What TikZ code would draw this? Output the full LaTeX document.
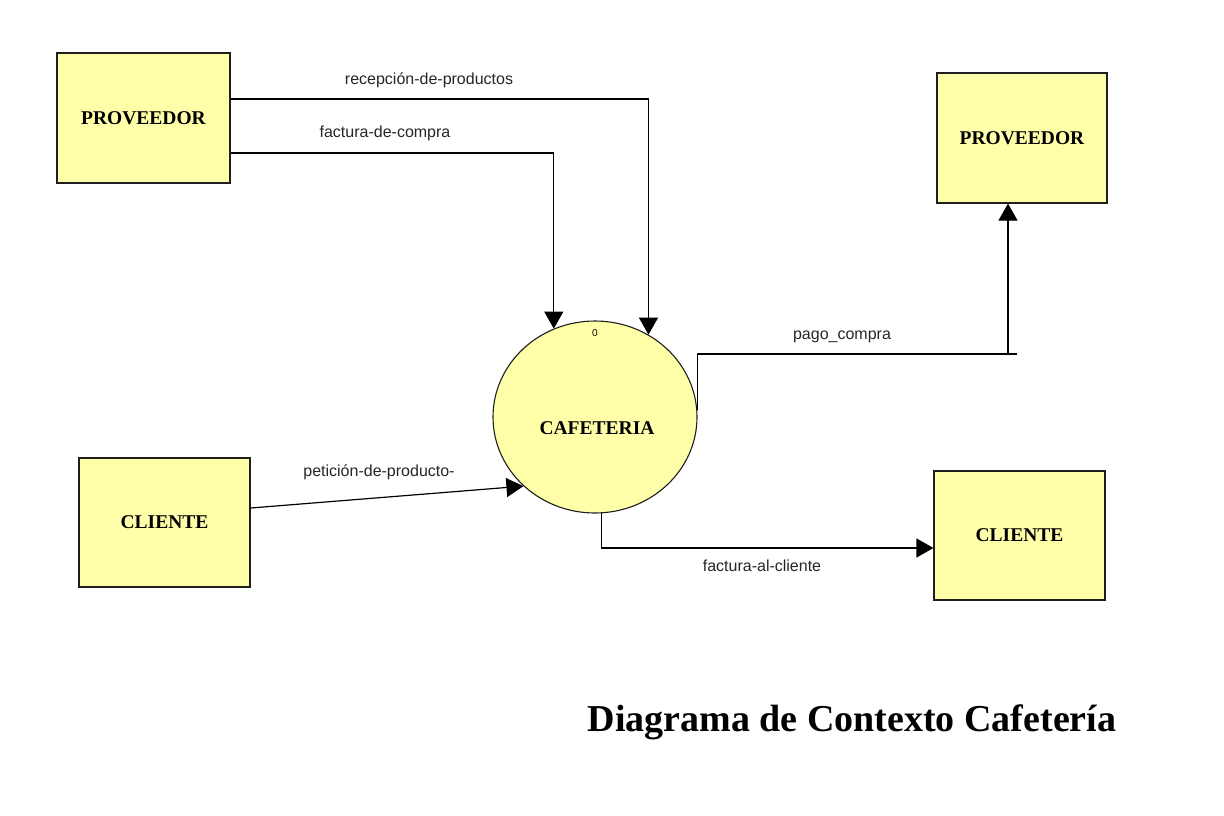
\documentclass[tikz,border=0pt]{standalone}
\usepackage{fontspec}
\setmainfont{Liberation Serif}
\setsansfont{Liberation Sans}
\usetikzlibrary{arrows.meta,shapes.geometric}
\definecolor{boxfill}{RGB}{255,255,170}
\definecolor{boxline}{RGB}{30,30,30}
\tikzset{
  entity/.style={draw=boxline, line width=1.2pt, fill=boxfill, rectangle, inner sep=0pt,
    font=\fontsize{19.5}{22}\selectfont\bfseries},
  procbubble/.style={draw=boxline, line width=1.1pt, fill=boxfill, ellipse, inner sep=0pt,
    minimum width=204pt, minimum height=192pt},
  proctext/.style={font=\fontsize{19.5}{22}\selectfont\bfseries, inner sep=0pt},
  flowlabel/.style={font=\sffamily\fontsize{16}{18}\selectfont, text=black!85, inner sep=0pt},
  flow/.style={draw=black, line width=1.2pt, -{Triangle[width=19pt,length=17pt]}},
  plainflow/.style={draw=black, line width=1.2pt}
}
\begin{document}
\begin{tikzpicture}[x=1pt,y=-1pt]
\useasboundingbox (0,0) rectangle (1224,815);
% entities
\node[entity, minimum width=173pt, minimum height=130pt] (prov1) at (143.5,118) {PROVEEDOR};
\node[entity, minimum width=170pt, minimum height=130pt] (prov2) at (1022,138) {PROVEEDOR};
\node[entity, minimum width=171pt, minimum height=129pt] (cli1) at (164.5,522.5) {CLIENTE};
\node[entity, minimum width=171pt, minimum height=129pt] (cli2) at (1019.5,535.5) {CLIENTE};
% process
\node[procbubble] (caf) at (595,417) {};
\node[proctext] (caflbl) at (597,428) {CAFETERIA};
\node[font=\sffamily\fontsize{10}{12}\selectfont, inner sep=0pt] (cafnum) at (595,333) {0};
% flows
\coordinate (rtop) at (0,99);
\coordinate (ftop) at (0,153);
\draw[flow] (prov1.east |- rtop) -| (caf.57);
\draw[flow] (prov1.east |- ftop) -| (caf.115);
\coordinate (pj) at (1008,354);
\coordinate (pe) at (1017,354);
\draw[plainflow] (caf.4) |- (pe);
\draw[flow] (pj) -- (pj |- prov2.south);
\coordinate (cstart) at (0,508);
\draw[flow] (cli1.east |- cstart) -- (caf.224);
\draw[flow] (caf.274) |- ([yshift=-12.5pt]cli2.west);
% labels
\node[flowlabel] (l1) at (429,80) {recepción-de-productos};
\node[flowlabel] (l2) at (385,133) {factura-de-compra};
\node[flowlabel] (l3) at (842,337) {pago\_compra};
\node[flowlabel] (l4) at (379,472) {petición-de-producto-};
\node[flowlabel] (l5) at (762,566) {factura-al-cliente};
% title
\node[font=\fontsize{38}{44}\selectfont\bfseries, inner sep=0pt] (title) at (852,722) {Diagrama de Contexto Cafetería};
\end{tikzpicture}
\end{document}
